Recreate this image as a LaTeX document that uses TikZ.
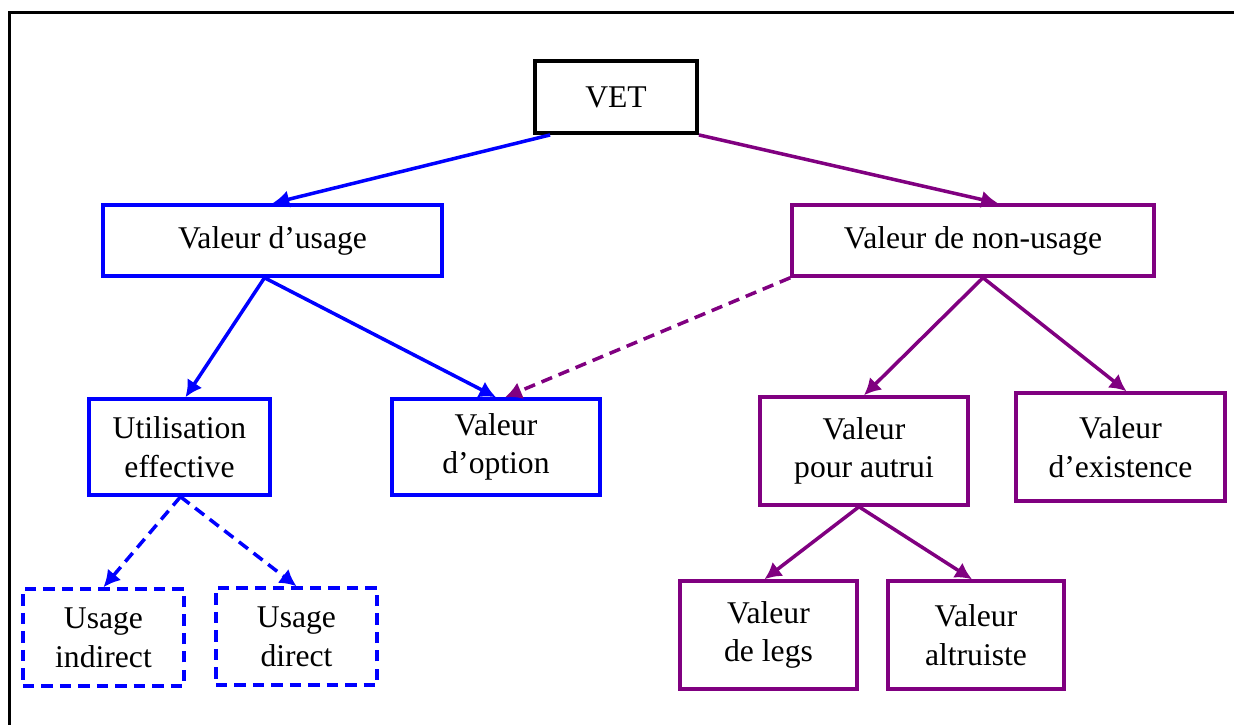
\documentclass[tikz,border=0pt]{standalone}
\usepackage{fontspec}
\setmainfont{Liberation Serif}
\usetikzlibrary{arrows.meta,calc}

\definecolor{nonuse}{RGB}{128,0,128}
\tikzset{
  box/.style={draw, line width=2pt, align=center, inner sep=0pt,
    font=\fontsize{18}{22}\selectfont},
  usebox/.style={box, draw=blue},
  nonbox/.style={box, draw=nonuse},
  dashbox/.style={usebox, dash pattern=on 6.5pt off 4pt},
  link/.style={line width=2pt},
}

\begin{document}
\begin{tikzpicture}[x=0.02cm, y=-0.02cm, >={Latex[length=9.5pt,width=10pt]}]
    \useasboundingbox (0,0) rectangle (1234,724);
    \draw[line width=2pt] (9.5,12.5) rectangle (1260,760);

    \node[box, line width=2.2pt, minimum width=3.24cm, minimum height=1.44cm] (VET) at (616,97) {VET};

    \node[usebox, minimum width=6.78cm, minimum height=1.42cm] (U) at (272.5,240.5) {Valeur d’usage};
    \node[nonbox, minimum width=7.24cm, minimum height=1.42cm] (NU) at (973,240.5) {Valeur de non-usage};

    \node[usebox, minimum width=3.62cm, minimum height=1.92cm] (E) at (179.5,447) {Utilisation\\effective};
    \node[usebox, minimum width=4.16cm, minimum height=1.92cm] (O) at (496,447) {Valeur\\d’option};
    \node[nonbox, minimum width=4.16cm, minimum height=2.16cm] (A) at (864,451) {Valeur\\pour autrui};
    \node[nonbox, minimum width=4.18cm, minimum height=2.16cm] (X) at (1120.5,447) {Valeur\\d’existence};

    \node[dashbox, minimum width=3.22cm, minimum height=1.94cm] (I) at (103.5,637.5) {Usage\\indirect};
    \node[dashbox, minimum width=3.22cm, minimum height=1.94cm] (D) at (296.5,636.5) {Usage\\direct};
    \node[nonbox, minimum width=3.54cm, minimum height=2.16cm] (L) at (768.5,635) {Valeur\\de legs};
    \node[nonbox, minimum width=3.52cm, minimum height=2.16cm] (T) at (976,635) {Valeur\\altruiste};

    % use side
    \path[->, link, blue]
    ($(VET.south west)+(17,0)$) edge (U.north)
    ($(U.south)+(-8,0)$) edge ($(E.north)+(6,0)$)
    ($(U.south)+(-8,0)$) edge (O.north)
    ($(E.south)+(1,0)$) edge[dash pattern=on 6.5pt off 4pt] (I.north)
    ($(E.south)+(1,0)$) edge[dash pattern=on 6.5pt off 4pt] (D.north);

    % non-use side
    \path[->, link, nonuse]
    (VET.south east) edge ($(NU.north)+(25,0)$)
    (NU.south west) edge[dash pattern=on 6.5pt off 4pt] ($(O.north)+(9,0)$)
    ($(NU.south)+(10,0)$) edge (A.north)
    ($(NU.south)+(10,0)$) edge ($(X.north)+(6,0)$)
    ($(A.south)+(-5,0)$) edge ($(L.north)+(-4,0)$)
    ($(A.south)+(-5,0)$) edge ($(T.north)+(-4,0)$);
\end{tikzpicture}
\end{document}
